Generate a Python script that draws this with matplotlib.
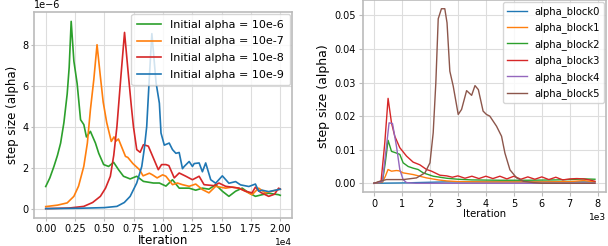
import matplotlib
matplotlib.use('Agg')
import matplotlib.pyplot as plt
from matplotlib.ticker import MultipleLocator

# ---- left panel: step size for different initial alpha (values in 1e-6) ----
g_x = [0, 350, 700, 1000, 1270, 1550, 1830, 2000, 2170, 2400, 2680, 2970, 3250, 3470, 3810, 4240,
       4520, 4940, 5360, 5790, 6210, 6630, 7200, 7760, 8330, 9180, 9690, 10250, 10810, 11380,
       12230, 12790, 13360, 13920, 14490, 15060, 15620, 16190, 16750, 17320, 17880, 18450,
       19010, 19860, 20000]
g_y = [1.08, 1.5, 2.06, 2.6, 3.2, 4.2, 5.6, 6.9, 9.14, 7.2, 6.1, 4.34, 4.1, 3.5, 3.77, 3.2,
       2.7, 2.15, 2.06, 2.26, 1.9, 1.58, 1.45, 1.58, 1.33, 1.25, 1.25, 1.1, 1.41, 1.0,
       1.0, 0.9, 1.0, 0.95, 1.17, 0.85, 0.6, 0.85, 1.0, 0.77, 0.6, 0.68,
       0.75, 0.68, 0.65]

o_x = [0, 1000, 1830, 2400, 2800, 3245, 3550, 3810, 4100, 4375, 4650, 4900, 5200, 5590, 5820,
       6000, 6200, 6800, 7000, 7430, 8000, 8300, 8840, 9100, 9500, 9970, 10250, 10810, 11230,
       11660, 12230, 12790, 13360, 13920, 14490, 15340, 15900, 16470, 17030, 17590, 18160,
       18720, 19300, 19860, 20000]
o_y = [0.1, 0.17, 0.28, 0.6, 1.1, 2.06, 3.2, 4.83, 6.3, 8.0, 6.5, 5.2, 4.2, 3.28, 3.5,
       3.3, 3.4, 2.55, 2.5, 2.2, 1.9, 1.6, 1.73, 1.65, 1.5, 1.65, 1.58, 1.17, 1.25,
       1.17, 1.09, 1.2, 0.93, 0.77, 1.09, 1.0, 1.05, 1.0, 0.85, 0.68, 1.0,
       0.77, 0.85, 0.93, 0.95]

r_x = [0, 2000, 3245, 4000, 4660, 5100, 5510, 5800, 6070, 6410, 6720, 7060, 7300, 7480, 7760,
       8050, 8330, 8750, 9180, 9600, 9880, 10250, 10500, 10960, 11380, 11950, 12510, 13080,
       13500, 14350, 14770, 15340, 16470, 17030, 17590, 17880, 18300, 19010, 19500, 19860, 20000]
r_y = [0.0, 0.03, 0.11, 0.3, 0.6, 1.0, 1.58, 2.6, 4.0, 6.45, 8.6, 6.45, 5.0, 4.0, 2.88,
       2.75, 3.12, 3.05, 2.47, 1.9, 2.15, 2.15, 2.1, 1.5, 1.74, 1.58, 1.41, 1.58,
       1.17, 1.12, 1.25, 1.09, 1.0, 0.85, 0.77, 1.05, 0.8, 0.6, 0.7, 1.0, 0.95]

b_x = [0, 3000, 5000, 6070, 6700, 7200, 7760, 8190, 8400, 8610, 8840, 9050, 9250, 9410, 9690,
       9830, 10110, 10530, 10810, 11100, 11380, 11660, 11810, 12230, 12510, 12660, 13080, 13360,
       13640, 14070, 14490, 15060, 15620, 16190, 16610, 17320, 17880, 18160, 18450, 19010,
       19580, 20000]
b_y = [0.0, 0.02, 0.05, 0.11, 0.3, 0.6, 1.25, 2.06, 2.9, 4.0, 6.45, 8.54, 7.2, 6.14, 5.15,
       3.69, 3.1, 3.2, 2.88, 2.7, 2.74, 1.95, 2.06, 2.3, 2.06, 2.2, 2.23, 1.8,
       2.23, 1.41, 1.24, 1.6, 1.24, 1.32, 1.16, 1.08, 1.2, 0.85, 0.9, 0.83,
       0.9, 0.95]

left_labels = ["Initial alpha = 10e-6", "Initial alpha = 10e-7",
               "Initial alpha = 10e-8", "Initial alpha = 10e-9"]

# ---- right panel: step size per block ----
blk0_x = [0, 1000, 2000, 2500, 3500, 5000, 7900]
blk0_y = [0.0, 0.0001, 0.0003, 0.0004, 0.0004, 0.0004, 0.0004]

blk1_x = [0, 300, 400, 500, 624, 802, 900, 1040, 1398, 1637, 1878, 2300, 2600, 3000, 4000, 5000,
          6000, 7000, 7500, 7900]
blk1_y = [0.0, 0.0003, 0.002, 0.0041, 0.0036, 0.0038, 0.0037, 0.0031, 0.0026, 0.0021, 0.0016,
          0.001, 0.0007, 0.0005, 0.0004, 0.0004, 0.0004, 0.0005, 0.0008, 0.0004]

blk2_x = [0, 300, 400, 502, 624, 802, 921, 1040, 1220, 1398, 1578, 1757, 2115, 2594, 3000, 3500,
          4500, 5500, 6500, 7000, 7500, 7900]
blk2_y = [0.0, 0.0005, 0.006, 0.0128, 0.0095, 0.009, 0.0086, 0.0061, 0.005, 0.0045, 0.0041,
          0.0031, 0.0021, 0.0015, 0.0012, 0.001, 0.0009, 0.0009, 0.001, 0.0011, 0.0013, 0.0012]

blk3_x = [0, 250, 384, 502, 624, 742, 921, 1161, 1398, 1637, 1878, 2056, 2355, 2600, 2800, 3000,
          3250, 3500, 3750, 4000, 4250, 4500, 4750, 5000, 5250, 5500, 5750, 6000, 6250, 6500,
          6750, 7000, 7250, 7500, 7700, 7900]
blk3_y = [0.0, 0.0005, 0.012, 0.0253, 0.018, 0.014, 0.0106, 0.0081, 0.0063, 0.0055, 0.0041,
          0.0036, 0.0024, 0.0022, 0.0018, 0.0022, 0.0015, 0.0021, 0.0014, 0.0021, 0.0014, 0.0021,
          0.0013, 0.0021, 0.0012, 0.0019, 0.0012, 0.0019, 0.0011, 0.0018, 0.001, 0.0013, 0.0014,
          0.0013, 0.001, 0.0006]

blk4_x = [0, 300, 444, 538, 660, 802, 921, 1040, 1161, 1500, 7900]
blk4_y = [0.0, 0.0005, 0.011, 0.018, 0.0178, 0.011, 0.0041, 0.0011, 0.0002, 0.0, 0.0]

blk5_x = [0, 204, 444, 1040, 1520, 1820, 2000, 2115, 2210, 2295, 2410, 2530, 2610, 2710, 2830,
          3010, 3130, 3310, 3490, 3610, 3730, 3900, 4020, 4140, 4380, 4560, 4680, 4860, 5100,
          5340, 5700, 6000, 7900]
blk5_y = [0.0, 0.0006, 0.0011, 0.0011, 0.0016, 0.0031, 0.0061, 0.015, 0.03, 0.049, 0.052,
          0.052, 0.0478, 0.0334, 0.029, 0.0205, 0.022, 0.0276, 0.0262, 0.0291, 0.0279, 0.0215,
          0.0205, 0.02, 0.017, 0.014, 0.009, 0.004, 0.0016, 0.0006, 0.0002, 0.0, 0.0]

right_labels = ["alpha_block0", "alpha_block1", "alpha_block2",
                "alpha_block3", "alpha_block4", "alpha_block5"]

fig = plt.figure(figsize=(6.08, 2.46), dpi=100)

def style_ax(ax):
    ax.grid(True, color='#dddddd', linewidth=0.8)
    ax.set_axisbelow(True)
    for s in ax.spines.values():
        s.set_color('#bbbbbb')
        s.set_linewidth(1.2)
    ax.tick_params(color='#bbbbbb', labelcolor='black', length=2.5, pad=1.5, labelsize=7)

# left
ax1 = fig.add_axes([34/608, 28/246, 258/608, 206/246])
ax1.plot(g_x, [v * 1e-6 for v in g_y], color='tab:green', lw=1.2, label=left_labels[0])
ax1.plot(o_x, [v * 1e-6 for v in o_y], color='tab:orange', lw=1.2, label=left_labels[1])
ax1.plot(r_x, [v * 1e-6 for v in r_y], color='tab:red', lw=1.2, label=left_labels[2])
ax1.plot(b_x, [v * 1e-6 for v in b_y], color='tab:blue', lw=1.2, label=left_labels[3])
ax1.xaxis.set_major_locator(MultipleLocator(2500))
ax1.ticklabel_format(style='sci', axis='both', scilimits=(0, 0))
style_ax(ax1)
ax1.set_xlabel("Iteration", fontsize=8.5, labelpad=0)
ax1.set_ylabel("step size (alpha)", fontsize=8.5, labelpad=2)
ax1.xaxis.get_offset_text().set_fontsize(6.5)
ax1.yaxis.get_offset_text().set_fontsize(7)
ax1.legend(loc='upper right', fontsize=8, handlelength=2.2, borderaxespad=0.2,
           labelspacing=0.6, borderpad=0.5)

# right
ax2 = fig.add_axes([363/608, 54/246, 243/608, 192/246])
for xs, ys, c, lab in [(blk0_x, blk0_y, 'tab:blue', right_labels[0]),
                       (blk1_x, blk1_y, 'tab:orange', right_labels[1]),
                       (blk2_x, blk2_y, 'tab:green', right_labels[2]),
                       (blk3_x, blk3_y, 'tab:red', right_labels[3]),
                       (blk4_x, blk4_y, 'tab:purple', right_labels[4]),
                       (blk5_x, blk5_y, 'tab:brown', right_labels[5])]:
    ax2.plot(xs, ys, color=c, lw=1.0, label=lab)
ax2.xaxis.set_major_locator(MultipleLocator(1000))
ax2.ticklabel_format(style='sci', axis='x', scilimits=(0, 0))
style_ax(ax2)
ax2.tick_params(length=3, pad=2)
ax2.set_xlabel("Iteration", fontsize=7.3, labelpad=0)
ax2.set_ylabel("step size (alpha)", fontsize=9, labelpad=3)
ax2.xaxis.get_offset_text().set_fontsize(6.5)
ax2.legend(loc='upper right', fontsize=7.2, handlelength=2.0, borderaxespad=0.2,
           labelspacing=0.55)

fig.savefig('out.png', dpi=100)
